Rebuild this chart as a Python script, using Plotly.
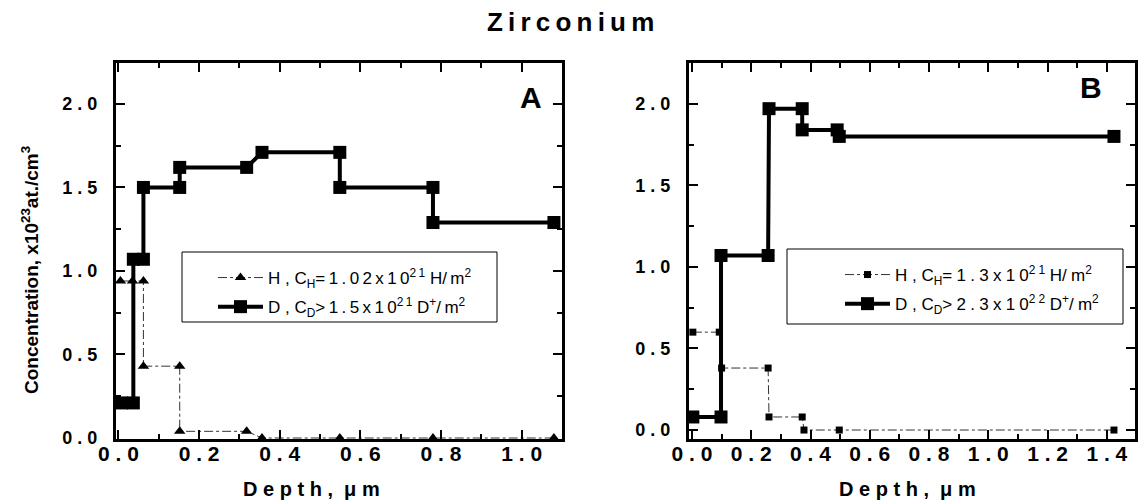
import plotly.graph_objects as go

W, H = 1139, 502

# ---------------- data ----------------
# Panel A
a_h_x = [0.005, 0.035, 0.062, 0.062, 0.152, 0.152, 0.318, 0.356, 0.549, 0.78, 1.08]
a_h_y = [0.94, 0.94, 0.94, 0.43, 0.43, 0.04, 0.04, 0.0, 0.0, 0.0, 0.0]
a_d_x = [0.008, 0.037, 0.037, 0.062, 0.062, 0.152, 0.152, 0.318, 0.356, 0.549, 0.549, 0.78, 0.78, 1.08]
a_d_y = [0.21, 0.21, 1.07, 1.07, 1.50, 1.50, 1.62, 1.62, 1.71, 1.71, 1.50, 1.50, 1.29, 1.29]
# Panel B
b_h_x = [0.003, 0.092, 0.10, 0.257, 0.26, 0.372, 0.378, 0.497, 1.424]
b_h_y = [0.60, 0.60, 0.38, 0.38, 0.08, 0.08, 0.0, 0.0, 0.0]
b_d_x = [0.003, 0.098, 0.098, 0.257, 0.26, 0.372, 0.372, 0.49, 0.497, 1.424]
b_d_y = [0.08, 0.08, 1.07, 1.07, 1.97, 1.97, 1.84, 1.84, 1.80, 1.80]

y_ticks = [0.0, 0.5, 1.0, 1.5, 2.0]
a_x_ticks = [0.0, 0.2, 0.4, 0.6, 0.8, 1.0]
b_x_ticks = [0.0, 0.2, 0.4, 0.6, 0.8, 1.0, 1.2, 1.4]


def legend_text(sym, sub, num, exp, unit, unit_sup="", sp="\u2009"):
    ls = sp.join
    return (f"{sym} , {ls('C')}<sub>{sub}</sub>{ls(num)}<sup>{ls(exp)}</sup> "
            f"{ls(unit)}{unit_sup}{ls('/m')}<sup>2</sup>")


a_legend = [legend_text("H", "H", "=1.02x10", "21", "H"),
            legend_text("D", "D", ">1.5x10", "21", "D", "<sup>+</sup>")]
b_legend = [legend_text("H", "H", "=1.3x10", "21", "H", sp="\u2005"),
            legend_text("D", "D", ">2.3x10", "22", "D", "<sup>+</sup>", sp="\u2005")]


def spaced(v):
    return " ".join(f"{v:.1f}")


FONT = "Liberation Sans, Arial, sans-serif"

fig = go.Figure()

# Panel A
fig.add_trace(go.Scatter(x=a_h_x, y=a_h_y, mode="lines+markers", name=a_legend[0],
                         line=dict(color="#333", width=1, dash="dashdot"),
                         marker=dict(symbol="triangle-up", size=10, color="black"),
                         cliponaxis=False, xaxis="x", yaxis="y", legend="legend", legendgroup="ah"))
fig.add_trace(go.Scatter(x=a_d_x, y=a_d_y, mode="lines+markers", name=a_legend[1],
                         line=dict(color="black", width=4),
                         marker=dict(symbol="square", size=13, color="black"),
                         cliponaxis=False, xaxis="x", yaxis="y", legend="legend", legendgroup="ad"))
# Panel B
fig.add_trace(go.Scatter(x=b_h_x, y=b_h_y, mode="lines+markers", name=b_legend[0],
                         line=dict(color="#333", width=1, dash="dashdot"),
                         marker=dict(symbol="square", size=7, color="black"),
                         cliponaxis=False, xaxis="x2", yaxis="y2", legend="legend2", legendgroup="bh"))
fig.add_trace(go.Scatter(x=b_d_x, y=b_d_y, mode="lines+markers", name=b_legend[1],
                         line=dict(color="black", width=4),
                         marker=dict(symbol="square", size=13, color="black"),
                         cliponaxis=False, xaxis="x2", yaxis="y2", legend="legend2", legendgroup="bd"))

axis_common = dict(showline=True, linecolor="black", linewidth=3, mirror="allticks",
                   ticks="inside", ticklen=9, tickwidth=2, tickcolor="black",
                   showgrid=False, zeroline=False, automargin=False)
xfont = dict(family=FONT, size=21, color="black", weight="bold")
yfont = dict(family=FONT, size=18, color="black", weight="bold")

ytop = 1 - 63 / H
ybot = 1 - 439 / H

minor_x = dict(ticks="inside", dtick=0.1, tick0=0, ticklen=5, tickwidth=2, tickcolor="black")
minor_y = dict(ticks="inside", dtick=0.25, tick0=0, ticklen=5, tickwidth=2, tickcolor="black")

legend_common = dict(xanchor="left", yanchor="middle", borderwidth=0, bgcolor="rgba(0,0,0,0)",
                     font=dict(family=FONT, size=17, color="black"),
                     itemwidth=45, tracegroupgap=4, xref="paper", yref="paper")

fig.update_layout(
    width=W, height=H,
    margin=dict(l=0, r=0, t=0, b=0, autoexpand=False),
    paper_bgcolor="white", plot_bgcolor="white",
    showlegend=True,
    xaxis=dict(domain=[116 / W, 562 / W], range=[-0.006, 1.1], anchor="y",
               tickvals=a_x_ticks, ticktext=[spaced(v) for v in a_x_ticks],
               tickfont=xfont, ticklabelstandoff=-6, minor=minor_x, **axis_common),
    yaxis=dict(domain=[ybot, ytop], range=[-0.006, 2.245], anchor="x",
               tickvals=y_ticks, ticktext=[spaced(v) for v in y_ticks],
               tickfont=yfont, ticklabelstandoff=12, minor=minor_y, **axis_common),
    xaxis2=dict(domain=[689 / W, 1135 / W], range=[-0.01, 1.495], anchor="y2",
                tickvals=b_x_ticks, ticktext=[spaced(v) for v in b_x_ticks],
                tickfont=xfont, ticklabelstandoff=-6, minor=minor_x, **axis_common),
    yaxis2=dict(domain=[ybot, ytop], range=[-0.055, 2.25], anchor="x2",
                tickvals=y_ticks, ticktext=[spaced(v) for v in y_ticks],
                tickfont=yfont, ticklabelstandoff=12, minor=minor_y, **axis_common),
    legend=dict(x=213 / W, y=1 - 292.5 / H, **legend_common),
    legend2=dict(x=840 / W, y=1 - 289.5 / H, **legend_common),
    shapes=[
        dict(type="rect", xref="paper", yref="paper", x0=182 / W, x1=497 / W,
             y0=1 - 322 / H, y1=1 - 252 / H, line=dict(color="black", width=1),
             fillcolor="white", layer="below"),
        dict(type="rect", xref="paper", yref="paper", x0=787 / W, x1=1123 / W,
             y0=1 - 324 / H, y1=1 - 249 / H, line=dict(color="black", width=1),
             fillcolor="white", layer="below"),
    ],
)

NB = "\u00a0"
depth_title = "<b>D e p t h ," + NB + " μ m</b>"
title_text = "<b>" + "\u2009".join("Zirconium") + "</b>"

annotations = [
    dict(text=title_text, x=570 / W, y=1 - 22 / H),
    dict(text="<b>A</b>", x=531 / W, y=1 - 97.5 / H),
    dict(text="<b>B</b>", x=1091 / W, y=1 - 87.5 / H),
    dict(text=depth_title, x=311 / W, y=1 - 489 / H),
    dict(text=depth_title, x=907 / W, y=1 - 489 / H),
    dict(text="<b>Concentration, x10<sup>23</sup>at./cm<sup>3</sup></b>", x=30 / W, y=1 - 270 / H,
         textangle=-90),
]
sizes = [26, 30, 30, 20, 20, 19]
for ann, s in zip(annotations, sizes):
    ann.update(xref="paper", yref="paper", showarrow=False, xanchor="center", yanchor="middle",
               font=dict(family=FONT, size=s, color="black"))
fig.update_layout(annotations=annotations)

fig.write_html("out.html")
